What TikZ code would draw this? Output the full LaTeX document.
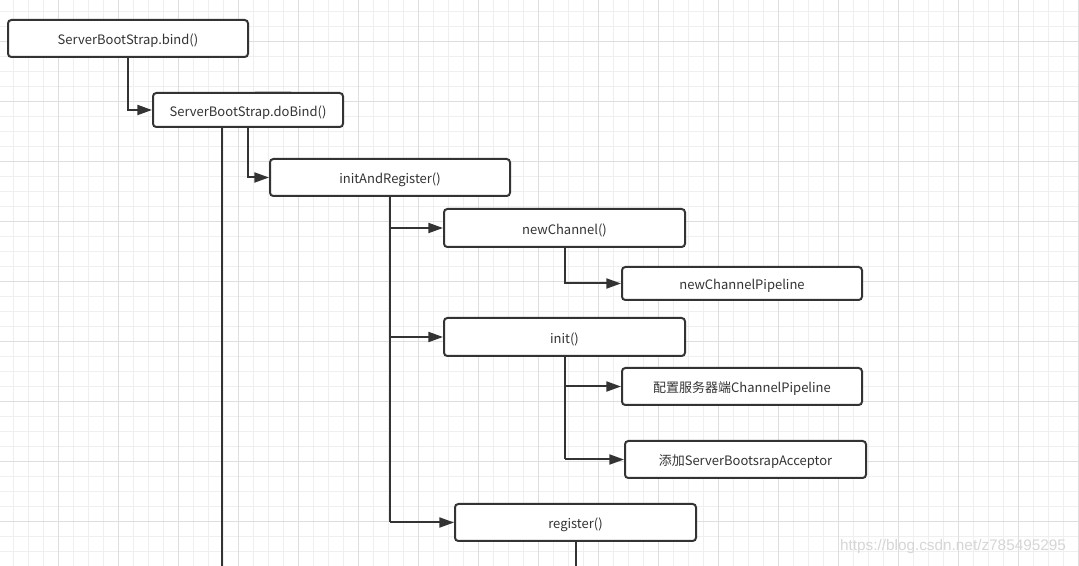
\documentclass[tikz,border=0pt]{standalone}
\usepackage{fontspec}
\setmainfont{Noto Sans CJK SC}
\newfontfamily\wmfont{Liberation Sans}
\usetikzlibrary{arrows.meta}
\definecolor{linec}{HTML}{333333}
\definecolor{gridfine}{HTML}{EFEFEF}
\definecolor{gridmajor}{HTML}{DEDEDE}
\definecolor{wmc}{HTML}{D6D6D6}
\definecolor{artc}{HTML}{BBBBBB}
\tikzset{
  box/.style={draw=linec, line width=1.5pt, rounded corners=2.5pt, fill=white,
    inner sep=0pt, text height=9.6pt, text depth=0pt,
    font=\fontsize{9.75pt}{12pt}\selectfont, text=linec},
  conn/.style={draw=linec, line width=1.5pt, -{Triangle[length=11pt,width=7.5pt]}},
  plain/.style={draw=linec, line width=1.5pt},
}
\begin{document}
\begin{tikzpicture}[x=0.75pt,y=-0.75pt]
\useasboundingbox (0,0) rectangle (1079,566);
\clip (0,0) rectangle (1079,566);
\fill[white] (0,0) rectangle (1079,566);
% grid
\foreach \x in {13,28,...,1079} \draw[gridfine, line width=0.75pt] (\x,0) -- (\x,566);
\foreach \y in {12,27,...,566} \draw[gridfine, line width=0.75pt] (0,\y) -- (1079,\y);
\foreach \x in {-2,58,...,1079} \draw[gridmajor, line width=0.75pt] (\x,0) -- (\x,566);
\foreach \y in {42,102,...,566} \draw[gridmajor, line width=0.75pt] (0,\y) -- (1079,\y);
% nodes
\node[box, minimum width=180pt, minimum height=27.75pt] (b1) at (128,38.5) {ServerBootStrap.bind()};
\node[box, minimum width=142.5pt, minimum height=25.5pt] (b2) at (248,110) {ServerBootStrap.doBind()};
\node[box, minimum width=180pt, minimum height=27.75pt] (b3) at (390,177.5) {initAndRegister()};
\node[box, minimum width=180.75pt, minimum height=28.5pt] (b4) at (564.5,228) {newChannel()};
\node[box, minimum width=180pt, minimum height=24.75pt] (b5) at (742,283.5) {newChannelPipeline};
\node[box, minimum width=180.75pt, minimum height=28.5pt] (b6) at (564.5,337) {init()};
\node[box, minimum width=180pt, minimum height=27.75pt] (b7) at (742,386.5) {配置服务器端ChannelPipeline};
\node[box, minimum width=180.75pt, minimum height=27.75pt] (b8) at (745.5,459.5) {添加ServerBootsrapAcceptor};
\node[box, minimum width=180.75pt, minimum height=27.75pt] (b9) at (575.5,522.5) {register()};
\coordinate (end1) at (222,570);
% faint mark above doBind
\draw[artc, line width=0.9pt] ([xshift=5.25pt,yshift=0.6pt]b2.north) -- ([xshift=32.25pt,yshift=0.6pt]b2.north);
% connectors
\draw[conn] (b1.south) |- (b2.west);
\draw[conn] (b2.south) |- (b3.west);
\draw[plain] (b2.south -| end1) -- (end1);
\draw[plain] (b3.south) -- (b3.south |- b9.west);
\draw[conn] (b3.south |- b4.west) -- (b4.west);
\draw[conn] (b3.south |- b6.west) -- (b6.west);
\draw[conn] (b3.south |- b9.west) -- (b9.west);
\draw[conn] (b4.south) |- (b5.west);
\draw[plain] (b6.south) -- (b6.south |- b8.west);
\draw[conn] (b6.south |- b7.west) -- (b7.west);
\draw[conn] (b6.south |- b8.west) -- (b8.west);
\draw[plain] (b9.south) -- (b9.south |- end1);
% watermark
\node[text=wmc, font=\wmfont\fontsize{11.5pt}{13pt}\selectfont, inner sep=0pt] (wm) at (953,547) {https://blog.csdn.net/z785495295};
\end{tikzpicture}
\end{document}
